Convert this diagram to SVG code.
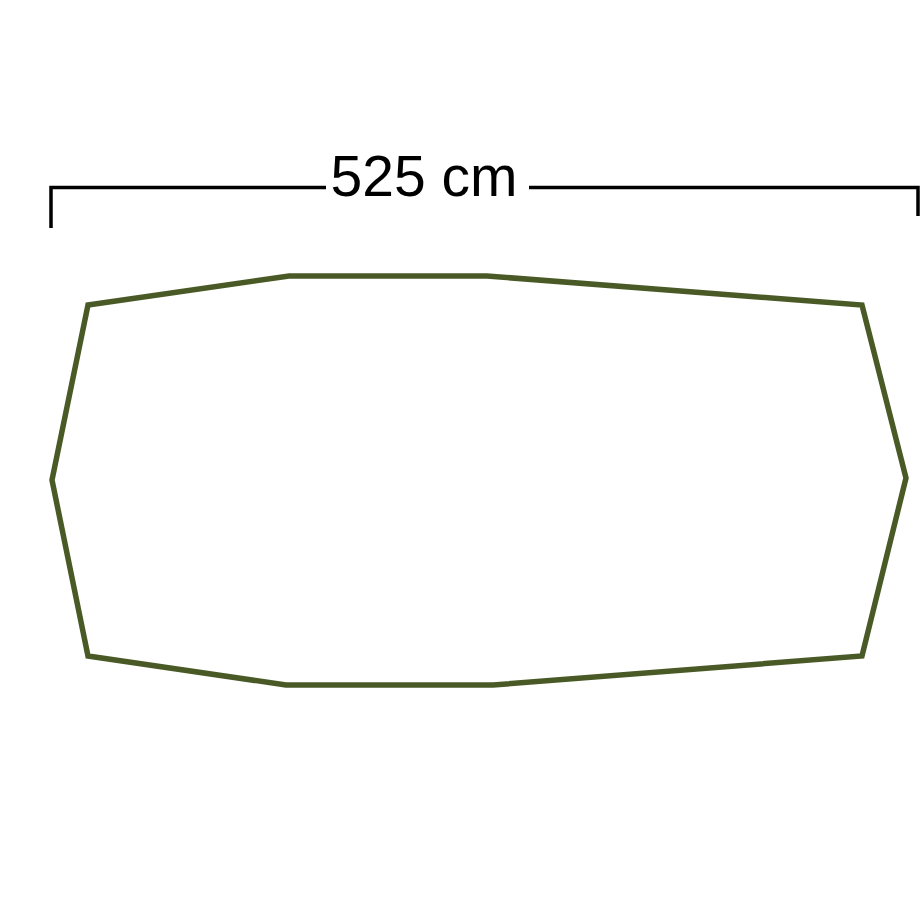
<svg xmlns="http://www.w3.org/2000/svg" width="920" height="920" viewBox="0 0 920 920">
<style>
.dim{fill:none;stroke:#000;stroke-width:3.5;stroke-linecap:butt;stroke-linejoin:miter}
.lbl{font-family:"Liberation Sans",Arial,sans-serif;font-size:57px;fill:#000}
.table{fill:#fff;stroke:#4a5a26;stroke-width:5.5;stroke-linejoin:miter}
</style>
<rect width="920" height="920" fill="#fff"/>
<g id="dimension">
<polyline class="dim" points="51,228 51,187.5 326,187.5"/>
<polyline class="dim" points="529,187.5 918,187.5 918,216"/>
<text class="lbl" x="424" y="196" text-anchor="middle">525 cm</text>
</g>
<g id="tabletop">
<polygon class="table" points="88,305 289,276 487,276 862,305 906,478 862,656 493,685 286,685 88,656 52,480"/>
</g>
</svg>
